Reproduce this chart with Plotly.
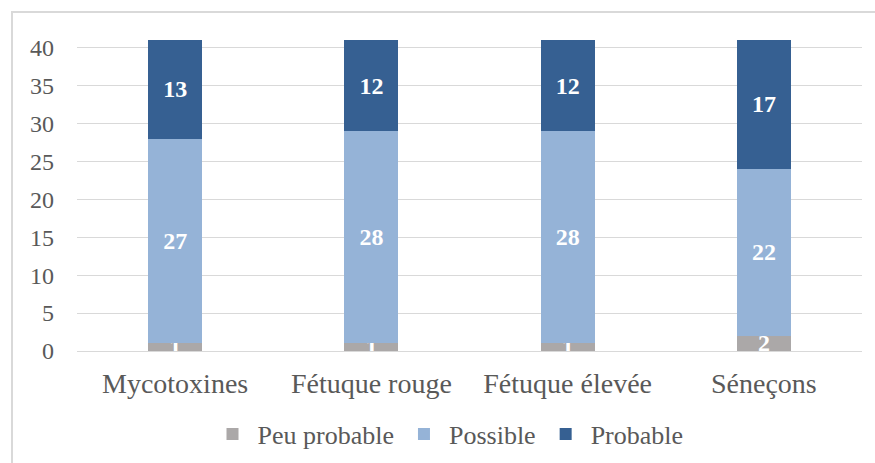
import plotly.graph_objects as go

# Data
categories = ["Mycotoxines", "Fétuque rouge", "Fétuque élevée", "Séneçons"]
peu_probable = [1, 1, 1, 2]
possible = [27, 28, 28, 22]
probable = [13, 12, 12, 17]
y_ticks = [0, 5, 10, 15, 20, 25, 30, 35, 40]

FONT = "Liberation Serif"
series = [
    ("Peu probable", peu_probable, "#ABA8A8"),
    ("Possible", possible, "#95B3D7"),
    ("Probable", probable, "#366092"),
]

fig = go.Figure()
for name, vals, color in series:
    fig.add_trace(go.Bar(
        x=categories, y=vals, name=name,
        marker=dict(color=color, line=dict(width=0)),
        text=vals, textposition="inside", insidetextanchor="middle",
        constraintext="none", textangle=0,
        textfont=dict(family=FONT, size=24, color="white", weight="bold"),
    ))

fig.update_layout(
    barmode="stack",
    bargap=0.725,
    width=875, height=463,
    margin=dict(l=77, r=13, t=40, b=112, autoexpand=False),
    paper_bgcolor="white", plot_bgcolor="white",
    font=dict(family=FONT, color="#595959"),
    showlegend=True,
    legend=dict(
        orientation="h", xref="container", yref="container",
        x=0.512, xanchor="center", y=1 - 434 / 463, yanchor="middle",
        font=dict(family=FONT, size=26, color="#595959"), traceorder="normal",
        itemwidth=40,
    ),
    shapes=[dict(type="rect", xref="paper", yref="paper",
                 x0=-65 / 785, x1=1.2, y0=-0.5, y1=1 + 28 / 311,
                 line=dict(color="#D9D9D9", width=2), layer="below")],
)

fig.update_yaxes(
    range=[0, 41], tickvals=y_ticks, showgrid=True, gridcolor="#D9D9D9",
    gridwidth=1, zeroline=False, showline=False,
    tickfont=dict(family=FONT, size=24, color="#595959"), ticklabelstandoff=22,
)
fig.update_xaxes(
    showline=True, linecolor="#D9D9D9", linewidth=1,
    tickfont=dict(family=FONT, size=28, color="#595959"), ticklabelstandoff=7,
)

# remove the default page margin so the figure sits at the window origin
fig.write_html("out.html", config={"displayModeBar": False},
               post_script="document.body.style.margin='0';")
